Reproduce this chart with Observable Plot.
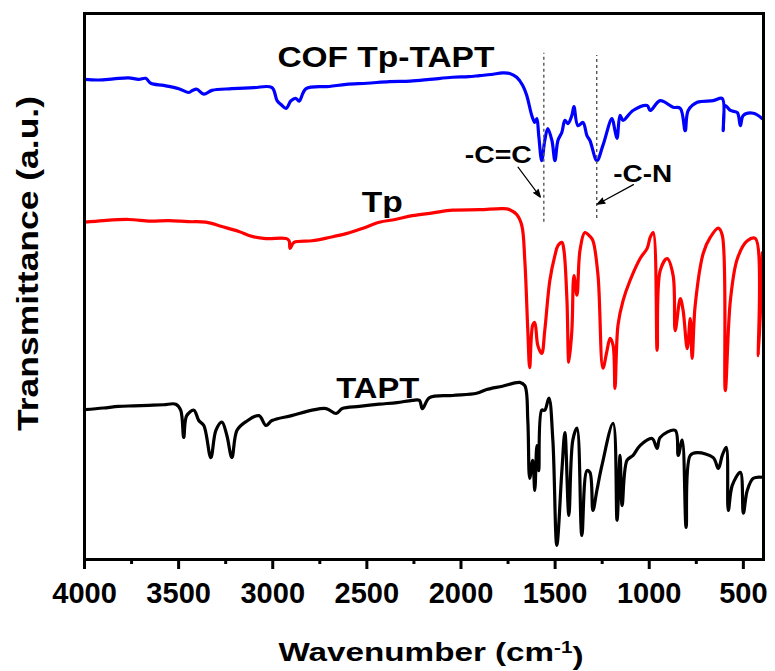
<!DOCTYPE html>
<html>
<head>
<meta charset="utf-8">
<script src="https://cdn.jsdelivr.net/npm/d3@7"></script>
<script src="https://cdn.jsdelivr.net/npm/@observablehq/plot@0.6"></script>
<style>
  html, body { margin: 0; padding: 0; background: #fff; }
</style>
</head>
<body>
<div id="chart"></div>
<script>
// ---------- data ----------
const cofWavenumber = [4000,3925,3846,3766,3712,3675,3648,3579,3499,3446,3425,3403,3366,3323,3217,3100,3004,2977,2956,2929,2903,2876,2860,2823,2700,2610,2500,2380,2270,2167,2045,1960,1901,1840,1778,1741,1704,1672,1651,1624,1608,1597,1587,1571,1555,1539,1517,1501,1485,1464,1448,1432,1411,1400,1379,1352,1331,1315,1278,1246,1198,1182,1171,1155,1139,1086,1011,995,942,873,835,809,793,745,660,612,607,596,569,532,516,500,447,399];
const cofT = [87.9,87.8,88.0,88.2,87.9,88.1,87.2,86.8,86.2,85.5,85.9,86.1,85.2,85.9,86.2,86.4,86.4,84.0,83.3,82.6,84.0,84.4,83.9,86.2,86.6,87.0,87.2,87.5,87.6,87.9,88.3,88.4,88.6,88.8,89.1,89.0,88.3,86.8,85.0,81.3,80.0,80.7,77.6,73.0,76.7,78.9,76.7,73.0,76.7,78.2,80.4,79.8,81.3,82.9,79.4,80.0,77.6,76.7,73.0,75.8,80.7,78.5,77.1,81.3,80.4,82.2,83.1,82.2,84.0,82.8,82.6,78.5,82.2,83.7,84.0,84.4,78.5,83.1,82.2,81.8,79.4,81.3,81.7,80.7];

const tpWavenumber = [4000,3900,3766,3650,3553,3450,3355,3270,3180,3110,3036,2929,2913,2908,2887,2791,2700,2610,2520,2434,2350,2258,2150,2045,1900,1778,1741,1704,1677,1661,1645,1635,1619,1608,1592,1571,1555,1528,1501,1485,1464,1453,1437,1427,1411,1400,1384,1368,1342,1315,1299,1272,1246,1224,1208,1192,1182,1166,1139,1102,1049,1011,995,979,958,942,905,873,862,835,820,798,782,772,756,713,676,633,612,596,569,532,479,436,420,399];
const tpT = [61.7,62.0,62.2,61.9,62.0,61.8,61.7,60.9,60.0,59.1,58.7,58.7,58.3,56.9,58.0,58.3,58.9,59.6,60.6,61.7,62.2,62.9,63.4,63.9,64.0,64.2,64.0,63.1,61.1,54.7,41.8,35.0,42.8,43.3,39.1,37.6,41.8,51.0,55.6,57.4,58.0,56.5,47.3,36.0,41.8,51.9,48.3,56.5,59.8,59.1,58.3,51.9,34.9,38.2,40.4,39.1,31.2,42.8,47.3,51.0,55.0,56.9,58.9,59.8,38.2,52.8,55.0,51.9,41.8,47.7,45.5,38.5,44.0,36.7,46.4,56.0,58.9,60.6,59.3,30.8,47.3,55.0,58.3,58.7,37.2,56.1];

const taptWavenumber = [4000,3900,3819,3740,3659,3580,3515,3489,3473,3457,3419,3393,3366,3329,3302,3270,3244,3217,3190,3142,3073,3036,3004,2900,2791,2716,2663,2631,2540,2434,2340,2258,2221,2205,2167,2045,1917,1864,1780,1688,1661,1645,1635,1619,1608,1597,1587,1571,1555,1533,1512,1491,1464,1448,1427,1406,1384,1358,1331,1315,1299,1278,1251,1192,1171,1155,1144,1118,1086,1049,985,958,942,862,846,825,804,782,745,660,633,612,591,580,559,516,500,479,447,399];
const taptT = [27.3,27.6,27.9,28.0,28.1,28.2,28.3,27.2,22.2,26.2,27.2,25.3,24.4,18.5,23.5,25.0,22.6,18.5,23.5,25.1,26.2,24.4,25.3,26.2,27.2,27.5,26.6,27.5,27.9,28.3,28.6,29.0,29.0,27.5,29.5,29.9,30.3,31.0,31.6,32.3,31.7,25.3,14.7,18.0,12.5,20.7,16.1,27.2,27.2,29.4,21.7,2.4,16.1,23.1,7.9,21.7,23.9,4.2,16.1,15.8,8.8,12.5,17.1,24.8,7.0,18.9,9.7,18.0,18.9,20.7,22.0,20.2,22.2,23.5,18.9,21.7,5.7,18.9,19.4,18.5,16.5,18.9,20.4,8.8,13.4,15.8,8.3,12.5,14.7,14.9];

const seriesNames = ["COF Tp-TAPT", "Tp", "TAPT"];
const seriesColors = ["#0000ff", "#ff0000", "#000000"];
const labelWavenumber = [2399, 2418, 2442];
const labelT = [90.1, 63.5, 29.5];

const bandNames = ["-C=C", "-C-N"];
const bandWavenumber = [1560, 1279];
const bandTop = [92.7, 92.3];
const bandBottom = [61.7, 62.4];
const bandTextWavenumber = [1802, 1035];
const bandTextT = [72.5, 69.0];
const arrowFromWavenumber = [1697, 1084];
const arrowFromT = [71.8, 68.6];
const arrowToWavenumber = [1578, 1276];
const arrowToT = [66.3, 65.0];

const majorTicks = [4000, 3500, 3000, 2500, 2000, 1500, 1000, 500];
const minorTicks = [3750, 3250, 2750, 2250, 1750, 1250, 750];

// ---------- tables built from the arrays ----------
const toRows = (ws, ts, name) => ws.map((w, i) => ({w, t: ts[i], name}));
const cof = toRows(cofWavenumber, cofT, seriesNames[0]);
const tp = toRows(tpWavenumber, tpT, seriesNames[1]);
const tapt = toRows(taptWavenumber, taptT, seriesNames[2]);
const labels = seriesNames.map((name, i) => ({name, w: labelWavenumber[i], t: labelT[i]}));
const bands = bandNames.map((name, i) => ({
  name, w: bandWavenumber[i], top: bandTop[i], bottom: bandBottom[i],
  tw: bandTextWavenumber[i], tt: bandTextT[i],
  x1: arrowFromWavenumber[i], y1: arrowFromT[i], x2: arrowToWavenumber[i], y2: arrowToT[i]
}));

const FONT = "'Liberation Sans', Arial, Helvetica, sans-serif";
const lineOpts = {x: "w", y: "t", strokeWidth: 3.2, strokeLinejoin: "round", curve: "catmull-rom"};

const chart = Plot.plot({
  width: 775,
  height: 671,
  marginLeft: 84,
  marginRight: 12,
  marginTop: 13,
  marginBottom: 112,
  style: {fontFamily: FONT, fontWeight: "bold", background: "#fff", color: "#000"},
  x: {domain: [4000, 393], label: null},
  y: {domain: [-0.2, 100], axis: null, label: null},
  marks: [
    Plot.line(cof, {...lineOpts, stroke: seriesColors[0]}),
    Plot.line(tp, {...lineOpts, stroke: seriesColors[1]}),
    Plot.line(tapt, {...lineOpts, stroke: seriesColors[2]}),
    Plot.ruleX(bands, {x: "w", y1: "bottom", y2: "top", stroke: "#555", strokeWidth: 1.4, strokeDasharray: "3,3"}),
    Plot.arrow(bands, {x1: "x1", y1: "y1", x2: "x2", y2: "y2", stroke: "#000", fill: "#000", strokeWidth: 1.2, headLength: 10, headAngle: 40}),
    Plot.text(bands, {x: "tw", y: "tt", text: "name", fontSize: 24, fontWeight: "bold", textAnchor: "middle", lineAnchor: "bottom", fill: "#000"}),
    Plot.text(labels, {x: "w", y: "t", text: "name", fontSize: 29, fontWeight: "bold", textAnchor: "middle", lineAnchor: "bottom", fill: "#000"}),
    Plot.frame({stroke: "#000", strokeWidth: 3}),
    Plot.axisX({ticks: majorTicks, tickSize: 10, tickPadding: 13, strokeWidth: 3, fontSize: 29, fontWeight: "bold", tickFormat: d => String(d), label: null}),
    Plot.axisX({ticks: minorTicks, tickSize: 5, strokeWidth: 3, tickFormat: () => "", label: null}),
    Plot.text(["Transmittance (a.u.)"], {frameAnchor: "left", dx: -47, dy: -23, rotate: -90, textAnchor: "middle", lineAnchor: "bottom", fontSize: 30, fontWeight: "bold", fill: "#000"}),
    Plot.text(["Wavenumber (cm-1)"], {frameAnchor: "bottom", dx: 7, dy: 101, textAnchor: "middle", lineAnchor: "bottom", fontSize: 26, fontWeight: "bold", fill: "#000"})
  ]
});

document.getElementById("chart").appendChild(chart);

// widen text to the proportions of the reference lettering
const stretch = {"COF Tp-TAPT": 217, "Tp": 41, "TAPT": 83, "-C=C": 67, "-C-N": 59, "Transmittance (a.u.)": 335};
d3.select(chart).selectAll("text").each(function () {
  const t = this.textContent;
  if (stretch[t]) {
    this.setAttribute("textLength", stretch[t]);
    this.setAttribute("lengthAdjust", "spacingAndGlyphs");
  }
  if (t === "Wavenumber (cm-1)") {
    const el = d3.select(this);
    el.text(null);
    el.append("tspan").text("Wavenumber (cm");
    el.append("tspan").attr("dy", "-0.45em").attr("font-size", "0.62em").text("-1");
    el.append("tspan").attr("dy", "0.45em").text(")");
    this.setAttribute("textLength", 305);
    this.setAttribute("lengthAdjust", "spacingAndGlyphs");
  }
});
</script>
</body>
</html>
